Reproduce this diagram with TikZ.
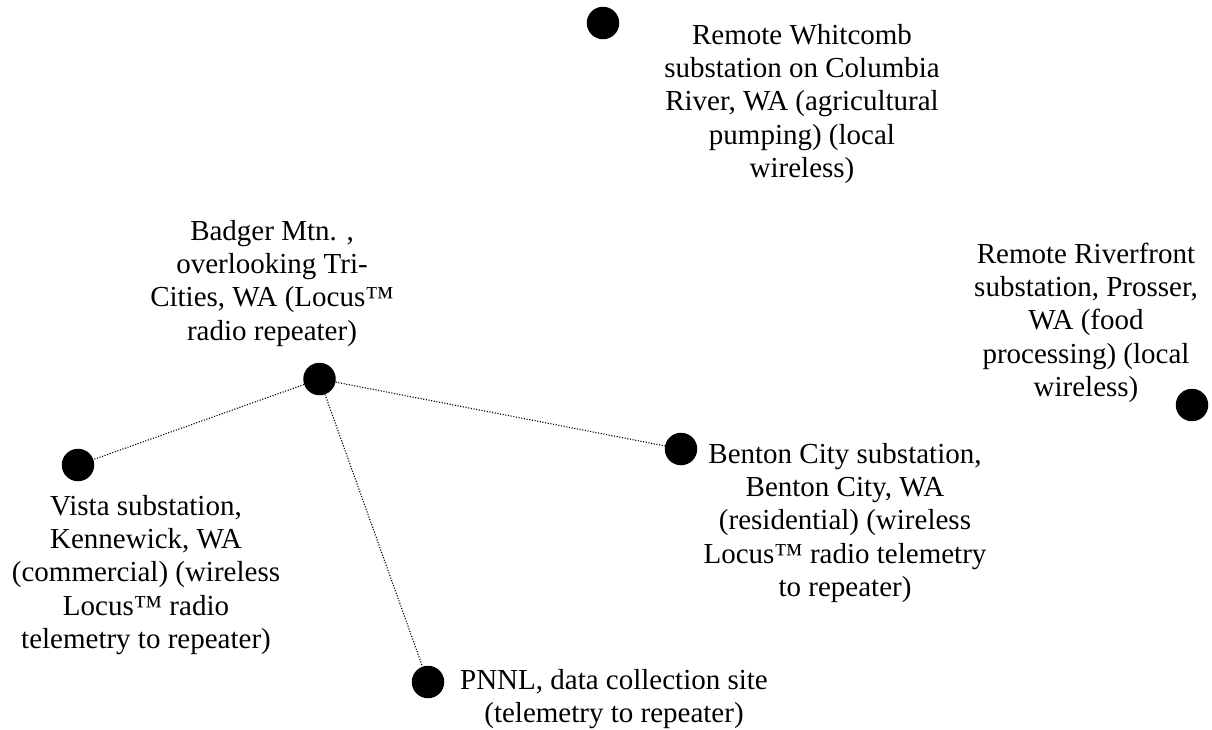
\documentclass[tikz,border=0pt]{standalone}
\usepackage{fontspec}
\setmainfont{Liberation Serif}
\begin{document}
\begin{tikzpicture}[x=1pt,y=-1pt,
  site/.style={circle,fill=black,minimum size=32.5pt,inner sep=0pt},
  lbl/.style={align=center,inner sep=0pt,anchor=north,font=\fontsize{29}{33.3}\selectfont},
  link/.style={line width=1.1pt,dash pattern=on 1.1pt off 1.6pt}]
\useasboundingbox (0,0) rectangle (1212,729);
% dots
\node[site] (whit) at (603,23) {};
\node[site] (badger) at (319.5,379) {};
\node[site] (river) at (1192,405) {};
\node[site] (benton) at (681,449) {};
\node[site] (vista) at (78,465) {};
\node[site] (pnnl) at (428,682) {};
% labels (anchor north = first baseline - 23.3)
\node[lbl] (whitL) at (802,20.7) {\strut Remote Whitcomb\\substation on Columbia\\River, WA (agricultural\\pumping) (local\\wireless)};
\node[lbl] (badgerL) at (272,216.7) {\strut Badger Mtn. ,\\overlooking Tri-\\Cities, WA (Locus™\\radio repeater)};
\node[lbl] (riverL) at (1086,239.7) {\strut Remote Riverfront\\substation, Prosser,\\WA (food\\processing) (local\\wireless)};
\node[lbl] (bentonL) at (845,439.7) {\strut Benton City substation,\\Benton City, WA\\(residential) (wireless\\Locus™ radio telemetry\\to repeater)};
\node[lbl] (vistaL) at (146,491.7) {\strut Vista substation,\\Kennewick, WA\\(commercial) (wireless\\Locus™ radio\\telemetry to repeater)};
\node[lbl] (pnnlL) at (614,665.7) {\strut PNNL, data collection site\\(telemetry to repeater)};
% links
\draw[link] (badger) -- (vista);
\draw[link] (badger) -- (benton);
\draw[link] (badger) -- (pnnl);
\end{tikzpicture}
\end{document}
